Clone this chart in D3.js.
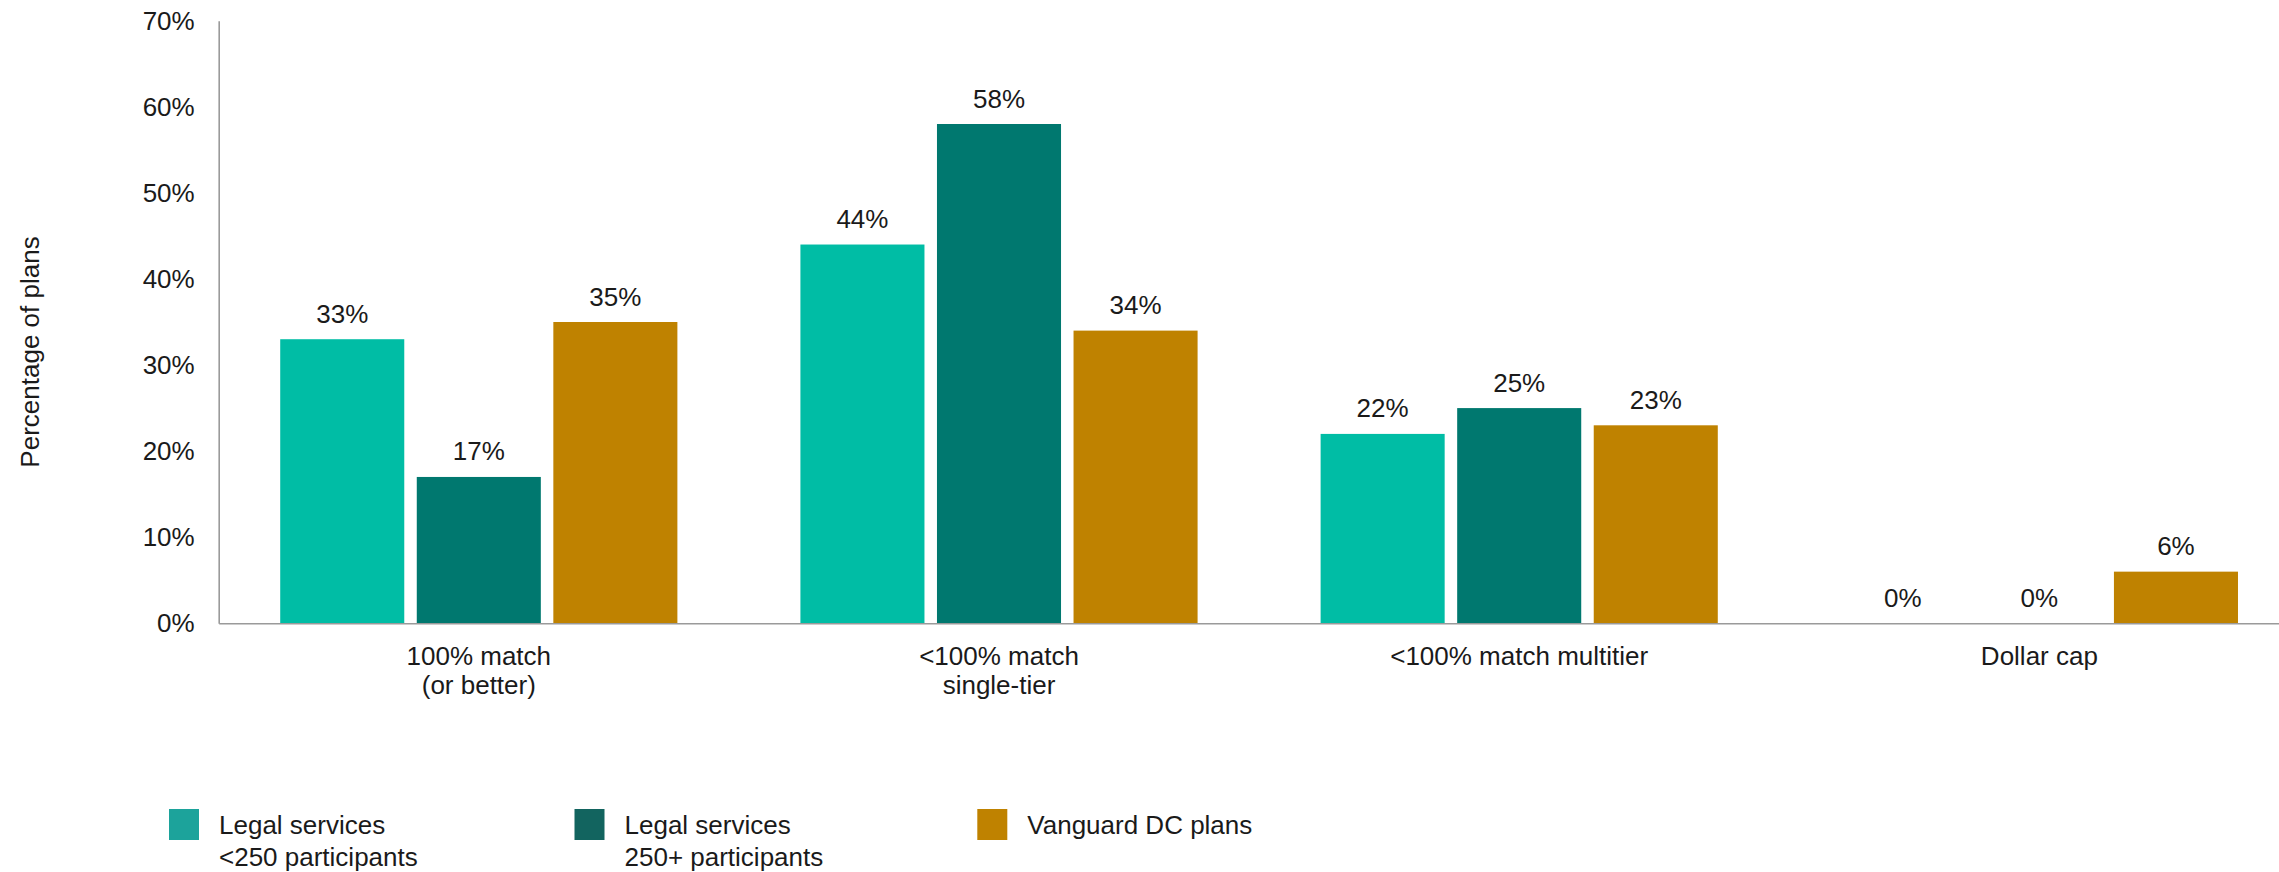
<!DOCTYPE html>
<html>
<head>
<meta charset="utf-8">
<script src="https://cdn.jsdelivr.net/npm/d3@7/dist/d3.min.js"></script>
<style>
  html, body { margin: 0; padding: 0; background: #ffffff; }
  svg { display: block; }
  text { font-family: "Liberation Sans", Arial, Helvetica, sans-serif; fill: #1a1a1a; }
</style>
</head>
<body>
<svg id="chart" width="2279" height="872"></svg>
<script>
// Employer match formula categories (each entry is the label's lines)
const categories = ["100% match (or better)", "<100% match single-tier", "<100% match multitier", "Dollar cap"];
const categoryLines = [["100% match", "(or better)"], ["<100% match", "single-tier"], ["<100% match multitier"], ["Dollar cap"]];

// Series
const seriesKeys = ["small", "large", "vanguard"];
const seriesLegendLines = [["Legal services", "<250 participants"], ["Legal services", "250+ participants"], ["Vanguard DC plans"]];

// Percentage of plans, one array per series, in category order
const smallPlanValues = [33, 44, 22, 0];
const largePlanValues = [17, 58, 25, 0];
const vanguardValues = [35, 34, 23, 6];

// Y axis ticks
const yTicks = [0, 10, 20, 30, 40, 50, 60, 70];
const yTitle = "Percentage of plans";

const barColors = { small: "#00bda5", large: "#00786f", vanguard: "#bf8200" };
const legendColors = { small: "#1ca39b", large: "#12645f", vanguard: "#bf8200" };

const seriesValues = { small: smallPlanValues, large: largePlanValues, vanguard: vanguardValues };

const svg = d3.select("#chart");

const plotLeft = 218.7;
const groupStep = 520.2;
const y0 = 623.3, yTop = 20.7;

const x = d3.scaleBand()
  .domain(categories)
  .range([plotLeft, plotLeft + groupStep * categories.length])
  .paddingInner(0.2365)
  .paddingOuter(0.11825);

const xInner = d3.scaleBand()
  .domain(seriesKeys)
  .range([0, x.bandwidth()])
  .paddingInner(0.0916)
  .paddingOuter(0);

const y = d3.scaleLinear().domain([0, 70]).range([y0, yTop]);

const rows = categories.map((c, i) => ({
  category: c,
  values: seriesKeys.map(k => ({ key: k, value: seriesValues[k][i] }))
}));

// Bars
const groups = svg.append("g").selectAll("g")
  .data(rows)
  .join("g")
  .attr("transform", d => `translate(${x(d.category)},0)`);

groups.selectAll("rect")
  .data(d => d.values)
  .join("rect")
  .attr("x", d => xInner(d.key))
  .attr("y", d => y(d.value))
  .attr("width", xInner.bandwidth())
  .attr("height", d => y(0) - y(d.value))
  .attr("fill", d => barColors[d.key]);

// Value labels above bars
groups.selectAll("text.value")
  .data(d => d.values)
  .join("text")
  .attr("class", "value")
  .attr("x", d => xInner(d.key) + xInner.bandwidth() / 2)
  .attr("y", d => y(d.value) - 16.5)
  .attr("text-anchor", "middle")
  .style("font-size", "26px")
  .text(d => d.value + "%");

// Y axis
const yAxis = svg.append("g")
  .attr("transform", `translate(${plotLeft},0)`)
  .call(d3.axisLeft(y).tickValues(yTicks).tickSize(0).tickPadding(24).tickFormat(d => d + "%"));
yAxis.select(".domain").attr("stroke", "#9a9a9a").attr("stroke-width", 1.6);
yAxis.selectAll(".tick text")
  .style("font-size", "26px")
  .style("font-family", "'Liberation Sans', Arial, sans-serif")
  .attr("fill", "#1a1a1a");

// X axis
const xAxis = svg.append("g")
  .attr("transform", `translate(0,${y0})`)
  .call(d3.axisBottom(x).tickSize(0).tickFormat(""));
xAxis.select(".domain").attr("stroke", "#9a9a9a").attr("stroke-width", 1.6);
xAxis.selectAll(".tick text").remove();

// Category labels
svg.append("g").selectAll("text")
  .data(categories)
  .join("text")
  .attr("text-anchor", "middle")
  .style("font-size", "26px")
  .each(function(c, i) {
    const t = d3.select(this);
    categoryLines[i].forEach((line, j) => {
      t.append("tspan")
        .attr("x", x(c) + x.bandwidth() / 2)
        .attr("y", y0 + 41.2 + j * 29.5)
        .text(line);
    });
  });

// Y axis title
svg.append("text")
  .attr("transform", "translate(38.5,352) rotate(-90)")
  .attr("text-anchor", "middle")
  .style("font-size", "26px")
  .text(yTitle);

// Legend
const legendX = [169, 574.5, 977.3];
const legend = svg.append("g").selectAll("g")
  .data(seriesKeys)
  .join("g")
  .attr("transform", (d, i) => `translate(${legendX[i]},809)`);

legend.append("rect")
  .attr("width", 30)
  .attr("height", 31)
  .attr("fill", d => legendColors[d]);

legend.append("text")
  .style("font-size", "26px")
  .each(function(d, i) {
    const t = d3.select(this);
    seriesLegendLines[i].forEach((line, j) => {
      t.append("tspan")
        .attr("x", 50)
        .attr("y", 25.3 + j * 31.7)
        .text(line);
    });
  });
</script>
</body>
</html>
